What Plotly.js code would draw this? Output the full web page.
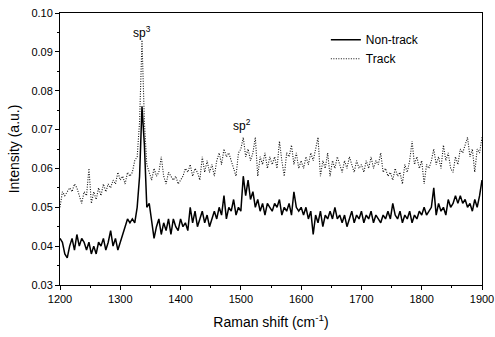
<!DOCTYPE html>
<html>
<head>
<meta charset="utf-8">
<script src="https://cdn.plot.ly/plotly-3.0.1.min.js"></script>
<style>html,body{margin:0;padding:0;background:#fff;}#chart{width:495px;height:337px;}</style>
</head>
<body>
<div id="chart"></div>
<script>
// Raman shift (cm^-1), step 4
const ramanShift = [];
for (let v = 1200; v <= 1900; v += 4) ramanShift.push(v);

const nonTrack = [
0.042,0.041,0.038,0.037,0.040,0.042,0.039,0.043,0.040,0.042,0.041,0.039,0.041,0.038,0.040,0.038,0.041,0.040,0.042,0.039,0.041,0.044,0.040,0.042,0.039,0.041,
0.043,0.045,0.047,0.046,0.047,0.046,0.050,0.058,0.076,0.066,0.050,0.051,0.046,0.042,0.045,0.047,0.043,0.046,0.044,0.047,0.043,0.047,0.045,0.044,0.047,
0.045,0.046,0.044,0.050,0.046,0.049,0.045,0.047,0.049,0.046,0.048,0.045,0.047,0.049,0.047,0.050,0.048,0.053,0.047,0.050,0.049,0.052,0.048,0.050,0.049,
0.058,0.053,0.057,0.052,0.054,0.050,0.052,0.049,0.051,0.048,0.051,0.050,0.049,0.051,0.050,0.052,0.048,0.050,0.049,0.051,0.048,0.054,0.050,0.049,0.050,
0.048,0.050,0.047,0.049,0.043,0.048,0.046,0.049,0.045,0.048,0.047,0.049,0.047,0.050,0.047,0.048,0.046,0.048,0.045,0.047,0.049,0.046,0.048,0.047,0.049,
0.046,0.048,0.047,0.049,0.046,0.048,0.047,0.046,0.048,0.047,0.049,0.047,0.051,0.048,0.047,0.049,0.046,0.048,0.047,0.049,0.046,0.048,0.047,0.049,0.048,
0.050,0.048,0.049,0.050,0.055,0.048,0.051,0.049,0.050,0.048,0.052,0.050,0.051,0.053,0.051,0.053,0.051,0.052,0.050,0.051,0.049,0.052,0.050,0.053,0.057
];

const track = [
0.050,0.054,0.053,0.054,0.055,0.054,0.056,0.055,0.053,0.051,0.054,0.053,0.060,0.051,0.054,0.052,0.055,0.053,0.056,0.054,0.056,0.055,0.057,0.056,0.059,0.057,
0.058,0.056,0.059,0.058,0.059,0.062,0.063,0.072,0.093,0.072,0.061,0.059,0.057,0.060,0.058,0.059,0.063,0.058,0.056,0.059,0.058,0.057,0.058,0.056,0.057,
0.058,0.060,0.059,0.061,0.058,0.060,0.059,0.057,0.063,0.059,0.062,0.059,0.061,0.058,0.062,0.064,0.061,0.065,0.063,0.064,0.062,0.060,0.058,0.064,0.065,
0.068,0.063,0.065,0.062,0.064,0.068,0.058,0.063,0.061,0.064,0.060,0.063,0.061,0.063,0.060,0.067,0.062,0.058,0.064,0.063,0.066,0.061,0.064,0.060,0.062,
0.060,0.063,0.061,0.064,0.062,0.065,0.068,0.058,0.062,0.060,0.064,0.058,0.062,0.060,0.063,0.061,0.059,0.062,0.060,0.063,0.061,0.059,0.062,0.060,0.061,
0.059,0.062,0.060,0.063,0.060,0.062,0.061,0.064,0.059,0.060,0.058,0.059,0.057,0.060,0.058,0.059,0.056,0.061,0.059,0.062,0.067,0.061,0.063,0.060,0.062,
0.056,0.061,0.060,0.062,0.065,0.061,0.063,0.060,0.066,0.062,0.064,0.060,0.059,0.063,0.061,0.065,0.064,0.066,0.068,0.063,0.065,0.059,0.065,0.064,0.068
];

const seriesNames = ['Non-track', 'Track'];
const xTickVals = [1200,1300,1400,1500,1600,1700,1800,1900];
const yTickVals = [0.03,0.04,0.05,0.06,0.07,0.08,0.09,0.10];
const yTickText = ['0.03','0.04','0.05','0.06','0.07','0.08','0.09','0.10'];

const traces = [
  {x: ramanShift, y: nonTrack, name: seriesNames[0], type: 'scatter', mode: 'lines',
   line: {color: '#000', width: 1.5}},
  {x: ramanShift, y: track, name: seriesNames[1], type: 'scatter', mode: 'lines',
   line: {color: '#111', width: 1.1, dash: '1px,1.5px'}}
];

const axisCommon = {
  showline: true, linecolor: '#000', linewidth: 1, mirror: true,
  ticks: 'outside', ticklen: 4, tickcolor: '#000', tickwidth: 1,
  showgrid: false, zeroline: false,
  tickfont: {family: 'Liberation Sans, Arial, sans-serif', size: 11, color: '#000'}
};

const layout = {
  width: 495, height: 337,
  margin: {l: 60, r: 13, t: 13, b: 52},
  paper_bgcolor: '#fff', plot_bgcolor: '#fff',
  font: {family: 'Liberation Sans, Arial, sans-serif', color: '#000'},
  showlegend: true,
  legend: {x: 0.63, y: 0.955, xanchor: 'left', yanchor: 'top', bgcolor: 'rgba(0,0,0,0)',
           font: {size: 12, color: '#000'}, tracegroupgap: 0, itemwidth: 30},
  xaxis: Object.assign({}, axisCommon, {
    range: [1200, 1900], tickvals: xTickVals,
    minor: {dtick: 50, ticks: 'outside', ticklen: 2, tickcolor: '#000'},
    title: {text: 'Raman shift (cm<sup>-1</sup>)', font: {size: 14, color: '#000'}, standoff: 12}
  }),
  yaxis: Object.assign({}, axisCommon, {
    range: [0.03, 0.10], tickvals: yTickVals, ticktext: yTickText,
    minor: {dtick: 0.005, ticks: 'outside', ticklen: 2, tickcolor: '#000'},
    title: {text: 'Intensity (a.u.)', font: {size: 14, color: '#000'}, standoff: 8}
  }),
  annotations: [
    {x: 1336, y: 0.0952, xref: 'x', yref: 'y', text: 'sp<sup>3</sup>', showarrow: false,
     font: {size: 12, color: '#000'}},
    {x: 1502, y: 0.0713, xref: 'x', yref: 'y', text: 'sp<sup>2</sup>', showarrow: false,
     font: {size: 12, color: '#000'}}
  ]
};

Plotly.newPlot('chart', traces, layout, {displayModeBar: false, staticPlot: true});
</script>
</body>
</html>
